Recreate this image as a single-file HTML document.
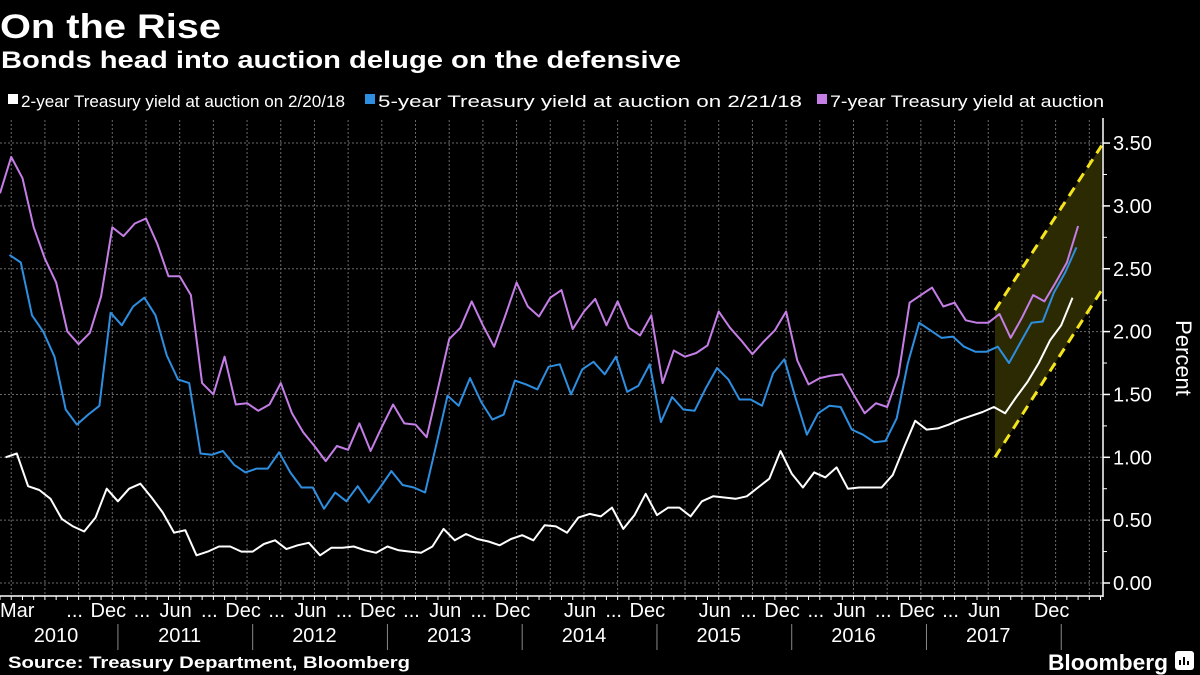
<!DOCTYPE html>
<html><head><meta charset="utf-8"><style>
html,body{margin:0;padding:0;background:#000;}
svg{display:block;}
text{font-family:"Liberation Sans",sans-serif;fill:#fff;}
</style></head><body>
<svg id="chart" width="1200" height="675" viewBox="0 0 1200 675">
<rect x="0" y="0" width="1200" height="675" fill="#000"/>
<text x="0" y="38" font-size="34" font-weight="bold" textLength="221" lengthAdjust="spacingAndGlyphs">On the Rise</text>
<text x="1" y="68" font-size="24" font-weight="bold" textLength="680" lengthAdjust="spacingAndGlyphs">Bonds head into auction deluge on the defensive</text>
<g>
<rect x="8" y="94" width="10" height="10" fill="#fff"/>
<text x="21" y="107" font-size="17" textLength="324" lengthAdjust="spacingAndGlyphs">2-year Treasury yield at auction on 2/20/18</text>
<rect x="365" y="94" width="10" height="10" fill="#2e8ee0"/>
<text x="378" y="107" font-size="17" textLength="424" lengthAdjust="spacingAndGlyphs">5-year Treasury yield at auction on 2/21/18</text>
<rect x="817" y="94" width="10" height="10" fill="#c47ee6"/>
<text x="830" y="107" font-size="17" textLength="274" lengthAdjust="spacingAndGlyphs">7-year Treasury yield at auction</text>
</g>
<g id="grid"></g>
<g id="band"></g>
<g id="series"></g>
<g id="axes"></g>
<text x="8" y="668" font-size="17" font-weight="bold" textLength="402" lengthAdjust="spacingAndGlyphs">Source: Treasury Department, Bloomberg</text>
<text x="1048" y="670" font-size="22" font-weight="bold" textLength="120" lengthAdjust="spacingAndGlyphs">Bloomberg</text>
<rect x="1175" y="651" width="19" height="19" rx="3" fill="#fff"/>
<path d="M1180 665v-5M1184 665v-8M1188 665v-4" stroke="#000" stroke-width="2"/>
</svg>
<script>
const y7 = [3.10,3.39,3.22,2.83,2.58,2.39,2.00,1.90,1.99,2.28,2.83,2.76,2.86,2.90,2.70,2.44,2.44,2.29,1.59,1.50,1.80,1.42,1.43,1.37,1.42,1.59,1.35,1.20,1.09,0.97,1.09,1.06,1.27,1.05,1.24,1.42,1.27,1.26,1.16,1.55,1.94,2.03,2.24,2.05,1.88,2.13,2.39,2.20,2.12,2.27,2.33,2.02,2.16,2.26,2.05,2.24,2.03,1.97,2.13,1.59,1.85,1.80,1.83,1.89,2.16,2.03,1.93,1.82,1.92,2.01,2.16,1.77,1.58,1.63,1.65,1.66,1.50,1.35,1.43,1.40,1.65,2.23,2.29,2.35,2.20,2.23,2.09,2.07,2.07,2.14,1.95,2.11,2.29,2.24,2.39,2.55,2.84];
const y5 = [2.61,2.55,2.13,2.00,1.80,1.38,1.26,1.34,1.41,2.15,2.05,2.20,2.27,2.13,1.81,1.62,1.59,1.03,1.02,1.05,0.94,0.88,0.91,0.91,1.04,0.88,0.76,0.76,0.59,0.72,0.65,0.77,0.64,0.76,0.89,0.78,0.76,0.72,1.10,1.49,1.41,1.63,1.44,1.30,1.34,1.61,1.58,1.54,1.72,1.74,1.50,1.70,1.76,1.66,1.80,1.52,1.57,1.74,1.28,1.48,1.38,1.37,1.55,1.71,1.62,1.46,1.46,1.41,1.67,1.78,1.47,1.18,1.35,1.41,1.40,1.22,1.18,1.12,1.13,1.31,1.75,2.07,2.01,1.95,1.96,1.88,1.84,1.84,1.88,1.75,1.91,2.07,2.08,2.31,2.47,2.67];
const y2 = [1.00,1.03,0.77,0.74,0.67,0.51,0.45,0.41,0.52,0.75,0.65,0.75,0.79,0.68,0.56,0.40,0.42,0.22,0.25,0.29,0.29,0.25,0.25,0.31,0.34,0.27,0.30,0.32,0.22,0.28,0.28,0.29,0.26,0.24,0.29,0.26,0.25,0.24,0.29,0.43,0.34,0.39,0.35,0.33,0.30,0.35,0.38,0.34,0.46,0.45,0.40,0.52,0.55,0.53,0.60,0.43,0.54,0.71,0.54,0.60,0.60,0.53,0.65,0.69,0.68,0.67,0.69,0.76,0.83,1.05,0.87,0.76,0.88,0.84,0.92,0.75,0.76,0.76,0.76,0.86,1.08,1.29,1.22,1.23,1.26,1.30,1.33,1.36,1.40,1.35,1.48,1.60,1.75,1.93,2.05,2.27];
const yTicks = ["0.00","0.50","1.00","1.50","2.00","2.50","3.00","3.50"];
const monthLabels = ["Mar","","...","Dec","...","Jun","...","Dec","...","Jun","...","Dec","...","Jun","...","Dec","","Jun","...","Dec","","Jun","...","Dec","...","Jun","...","Dec","...","Jun","","Dec"];
const yearLabels = ["2010","2011","2012","2013","2014","2015","2016","2017"];
const bandMonths = [88.6, 98.1];
const bandLow = [1.00, 2.33];
const bandHigh = [2.17, 3.48];

const NS = "http://www.w3.org/2000/svg";
const X0 = 0, DX = 11.23, AXIS_X = 1103;
const xs = m => X0 + m * DX;           // m = months since Feb 2010
const ys = v => 583 - v * 125.7;
function mk(tag, attrs, parent) {
  const e = document.createElementNS(NS, tag);
  for (const k in attrs) e.setAttribute(k, attrs[k]);
  parent.appendChild(e); return e;
}
const grid = document.getElementById("grid");
const axes = document.getElementById("axes");
yTicks.forEach((t, k) => {
  const v = parseFloat(t), y = ys(v);
  const gl = mk("line", {x1: 0, x2: AXIS_X, y1: y, y2: y, stroke: "#6a6a6a", "stroke-width": 1, "stroke-dasharray": "2,2"}, grid);
  
  
  mk("line", {x1: AXIS_X, x2: AXIS_X + 7, y1: y, y2: y, stroke: "#fff", "stroke-width": 1.5}, axes);
  const tx = mk("text", {x: 1113, y: y + 7, "font-size": 20}, axes);
  tx.textContent = t;
  
  
  if (k < yTicks.length - 1) mk("line", {x1: AXIS_X, x2: AXIS_X + 4, y1: ys(v + 0.25), y2: ys(v + 0.25), stroke: "#fff", "stroke-width": 1}, axes);
});
for (let m = 1; xs(m) < AXIS_X; m += 3) {
  const vl = mk("line", {x1: xs(m), x2: xs(m), y1: 120, y2: 596, stroke: "#6a6a6a", "stroke-width": 1, "stroke-dasharray": "2,2"}, grid);
  
  
}
mk("line", {x1: AXIS_X, x2: AXIS_X, y1: 118, y2: 597, stroke: "#fff", "stroke-width": 1.5}, axes);
mk("line", {x1: 0, x2: AXIS_X, y1: 596, y2: 596, stroke: "#fff", "stroke-width": 1.5}, axes);
for (let m = 0; xs(m) < AXIS_X; m++) mk("line", {x1: xs(m), x2: xs(m), y1: 596, y2: 600, stroke: "#fff", "stroke-width": 1}, axes);
monthLabels.forEach((l, k) => {
  if (!l) return;
  const t = mk("text", {x: xs(1 + 3 * k) - 4, y: 617, "font-size": 20, "text-anchor": "middle"}, axes);
  if (k === 0) { t.setAttribute("x", 0); t.setAttribute("text-anchor", "start"); }
  t.textContent = l;
  
  
});
yearLabels.forEach((l, k) => {
  const cx = k === 0 ? 56 : xs(16 + 12 * (k - 1));
  const t = mk("text", {x: cx, y: 642, "font-size": 20, "text-anchor": "middle"}, axes);
  t.textContent = l;
  
  
  const sx = xs(10.5 + 12 * k);
  mk("line", {x1: sx, x2: sx, y1: 624, y2: 650, stroke: "#888", "stroke-width": 1}, axes);
});
const yt = mk("text", {x: 1176, y: 358, "font-size": 22, "text-anchor": "middle", transform: "rotate(90 1176 358)"}, axes);
yt.textContent = "Percent";


const band = document.getElementById("band");
const bx0 = xs(bandMonths[0]), bx1 = xs(bandMonths[1]);
const poly = mk("polygon", {points: `${bx0},${ys(bandHigh[0])} ${bx1},${ys(bandHigh[1])} ${bx1},${ys(bandLow[1])} ${bx0},${ys(bandLow[0])}`, fill: "#2c2a02"}, band);


[[bandHigh, 'band-upper-line'], [bandLow, 'band-lower-line']].forEach(([arr, nm]) => {
  const l = mk("line", {x1: bx0, y1: ys(arr[0]), x2: bx1, y2: ys(arr[1]), stroke: "#f4e41c", "stroke-width": 3, "stroke-dasharray": "10,7"}, band);
  
  
});
const series = document.getElementById("series");
function drawLine(vals, start, color, name) {
  const pts = vals.map((v, k) => xs(start + k).toFixed(1) + "," + ys(v).toFixed(1)).join(" ");
  const p = mk("polyline", {points: pts, fill: "none", stroke: color, "stroke-width": 2, "stroke-linejoin": "round"}, series);
  
  
}
drawLine(y2, 0.5, "#ffffff", "line-2yr");
drawLine(y5, 0.85, "#2e8ee0", "line-5yr");
drawLine(y7, 0, "#c47ee6", "line-7yr");
</script>
</body></html>
